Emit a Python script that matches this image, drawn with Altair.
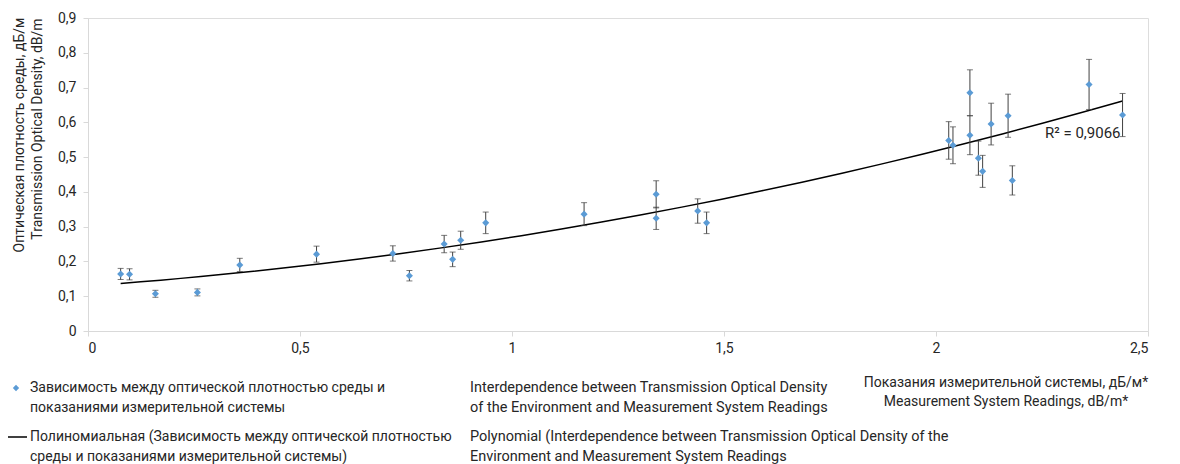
import altair as alt
import pandas as pd

# ---- data ----
x_vals = [0.077, 0.098, 0.159, 0.258, 0.358, 0.539, 0.719, 0.758, 0.840, 0.860,
          0.879, 0.938, 1.170, 1.340, 1.340, 1.438, 1.459, 2.030, 2.040, 2.080,
          2.080, 2.100, 2.110, 2.130, 2.170, 2.180, 2.361, 2.440]
y_vals = [0.164, 0.163, 0.107, 0.111, 0.190, 0.221, 0.223, 0.159, 0.250, 0.206,
          0.261, 0.311, 0.336, 0.393, 0.324, 0.345, 0.311, 0.548, 0.534, 0.685,
          0.563, 0.497, 0.459, 0.595, 0.619, 0.433, 0.709, 0.621]
err_vals = [0.016, 0.016, 0.010, 0.010, 0.019, 0.023, 0.022, 0.015, 0.025, 0.021,
            0.026, 0.031, 0.033, 0.039, 0.032, 0.035, 0.031, 0.054, 0.053, 0.066,
            0.056, 0.049, 0.046, 0.060, 0.062, 0.042, 0.072, 0.062]

x_ticks = [0, 0.5, 1, 1.5, 2, 2.5]
y_ticks = [0, 0.1, 0.2, 0.3, 0.4, 0.5, 0.6, 0.7, 0.8, 0.9]

x_title = ["Показания измерительной системы, дБ/м*", "Measurement System Readings, dB/m*"]
y_title = ["Оптическая плотность среды, дБ/м", "Transmission Optical Density, dB/m"]
r2_text = "R² = 0,9066"
legend_ru_1 = ["Зависимость между оптической плотностью среды и", "показаниями измерительной системы"]
legend_en_1 = ["Interdependence between Transmission Optical Density",
               "of the Environment and Measurement System Readings"]
legend_ru_2 = ["Полиномиальная (Зависимость между оптической плотностью",
               "среды и показаниями измерительной системы)"]
legend_en_2 = ["Polynomial (Interdependence between Transmission Optical Density of the",
               "Environment and Measurement System Readings"]

df = pd.DataFrame({"x": x_vals, "y": y_vals, "err": err_vals})

FONT = "Roboto"
TXT = "#262626"
BLUE = "#5b9bd5"
AX = "#d9d9d9"
W, H = 1060, 313

xscale = alt.Scale(domain=[0, 2.5], nice=False, zero=False)
yscale = alt.Scale(domain=[0, 0.9], nice=False)

lab_expr = "replace(format(datum.value, '.2~f'), '.', ',')"

x_axis = alt.Axis(values=x_ticks, labelExpr=lab_expr, grid=False, domainColor=AX,
                  tickColor=AX, tickSize=5, labelFontSize=14, labelColor=TXT,
                  labelPadding=5, labelFont=FONT, labelOverlap=False, title=None)
y_axis = alt.Axis(values=y_ticks, labelExpr=lab_expr, grid=False, domainColor=AX,
                  tickColor=AX, tickSize=5, labelFontSize=14, labelColor=TXT,
                  labelPadding=7, labelFont=FONT, labelOverlap=False, title=None)

base = alt.Chart(df)

X = alt.X("x:Q", scale=xscale, axis=x_axis)

trend = base.transform_regression("x", "y", method="poly", order=2).mark_line(
    color="black", strokeWidth=1.5).encode(
    x=X, y=alt.Y("y:Q", scale=yscale, axis=y_axis))

errs = base.transform_calculate(lo="datum.y - datum.err", hi="datum.y + datum.err").mark_errorbar(
    ticks={"size": 6}, color="#404040").encode(
    x=X, y=alt.Y("lo:Q", scale=yscale, axis=y_axis), y2="hi:Q")

pts = base.mark_point(shape="diamond", filled=True, size=50, color=BLUE, opacity=1).encode(
    x=X, y=alt.Y("y:Q", scale=yscale, axis=y_axis))


def label(text, x, y, align="left", size=14, angle=0, lh=20):
    return alt.Chart(alt.Data(values=[{}])).mark_text(
        text=text, align=align, baseline="middle", font=FONT, fontSize=size,
        color=TXT, lineHeight=lh, angle=angle).encode(x=alt.value(x), y=alt.value(y))


texts = [
    label(r2_text, 957, 115, size=15),
    label(y_title[0], -68, 117, align="center", size=14, angle=270),
    label(y_title[1], -50, 111, align="center", size=14, angle=270),
    label(x_title, 918, 365, align="center", size=14, lh=19),
    label(legend_ru_1, -58, 370),
    label(legend_en_1, 382, 370, size=14.5),
    label(legend_ru_2, -58, 419),
    label(legend_en_2, 382, 419, size=14.5),
]

leg_pt = alt.Chart(alt.Data(values=[{}])).mark_point(
    shape="diamond", filled=True, size=40, color=BLUE, opacity=1).encode(
    x=alt.value(-72), y=alt.value(370))
leg_line = alt.Chart(alt.Data(values=[{}])).mark_rule(color="black", strokeWidth=1.5).encode(
    x=alt.value(-85), x2=alt.value(-61), y=alt.value(419))

chart = alt.layer(trend, errs, pts, leg_pt, leg_line, *texts).properties(
    width=W, height=H,
    autosize=alt.AutoSizeParams(type="none"),
    padding={"left": 80, "top": 10, "right": 11, "bottom": 133},
).configure_view(stroke=None).configure(font=FONT)

chart.save("out.html", embed_options={"renderer": "svg", "actions": False})
